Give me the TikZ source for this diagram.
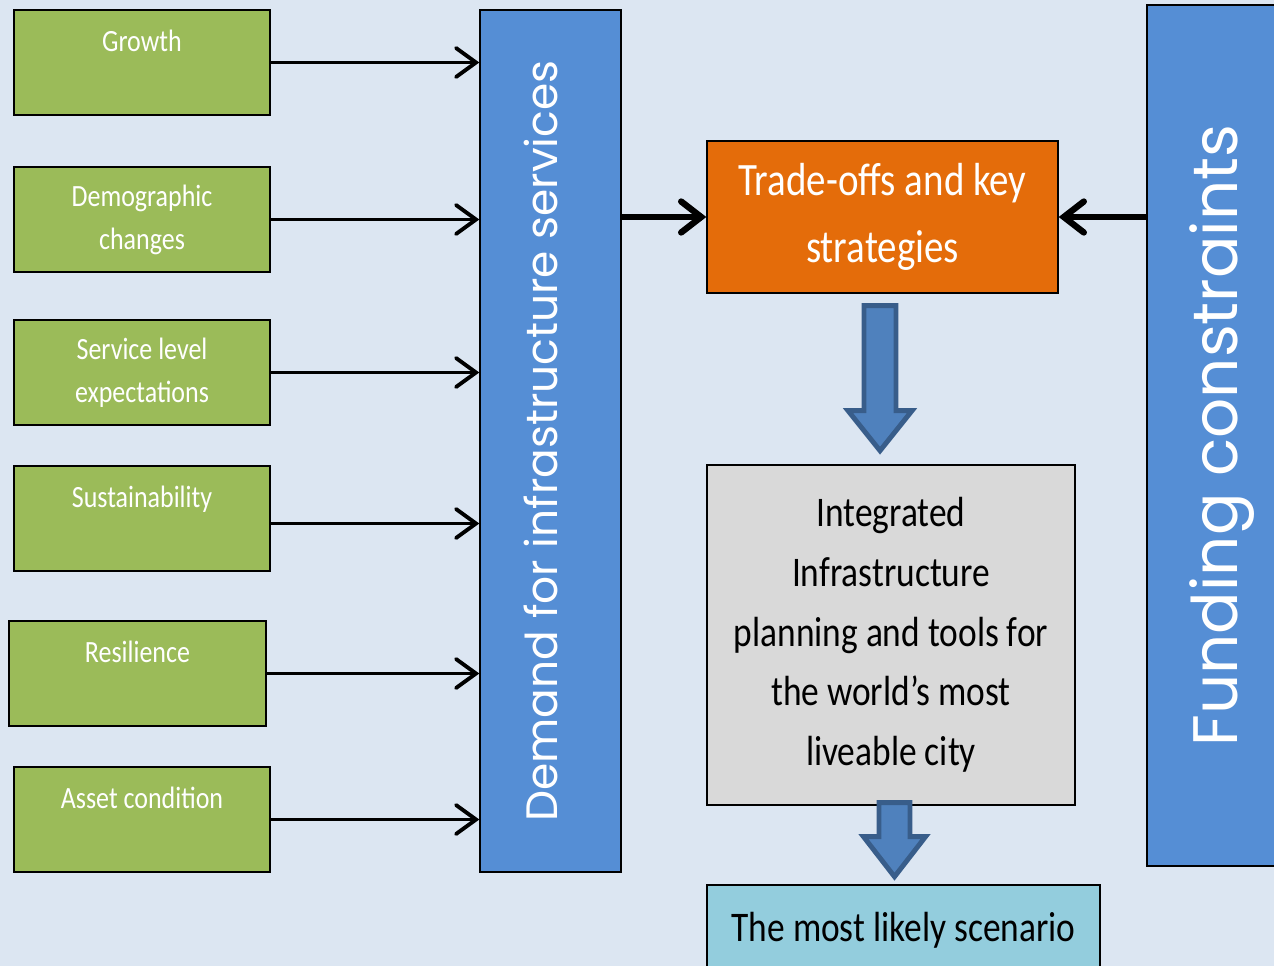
\documentclass[tikz,border=0pt]{standalone}
\usepackage{fontspec}
\setmainfont{Carlito}[FakeStretch=0.84]
\newfontfamily\geofont{Poppins}
\usetikzlibrary{arrows.meta, calc}
\definecolor{bgblue}{HTML}{DCE6F2}
\definecolor{facgreen}{HTML}{9BBB59}
\definecolor{colblue}{HTML}{558ED5}
\definecolor{tradeorange}{HTML}{E46C0A}
\definecolor{plangrey}{HTML}{D9D9D9}
\definecolor{scencyan}{HTML}{93CDDD}
\definecolor{blkfill}{HTML}{4F81BD}
\definecolor{blkline}{HTML}{385D8A}
\tikzset{%
    fac/.style={rectangle, draw, line width=0.8pt, fill=facgreen, text=white, align=center,
        minimum width=5.12cm, minimum height=2.1cm, inner sep=0pt, font=\fontsize{17.6}{24.5}\selectfont},
    col/.style={rectangle, draw, line width=0.8pt, fill=colblue, text=white, inner sep=0pt, rotate=90},
    res/.style={rectangle, draw, line width=0.8pt, align=center, inner sep=0pt},
    ina/.style={line width=2.2pt, -{Straight Barb[length=0.4cm, width=0.58cm, line cap=round]}},
    maina/.style={line width=3.6pt, -{Straight Barb[length=0.4cm, width=0.62cm, line cap=round]}},
    blk/.style={fill=blkfill, draw=blkline, line width=2.8pt, line join=miter},
}
\begin{document}
\begin{tikzpicture}[x=0.02cm, y=-0.02cm]
    \useasboundingbox (0,0) rectangle (1274,966);
    \fill [bgblue](0,0) rectangle (1274,966);
    \begin{scope}
    \clip (0,0) rectangle (1274,966);
    \node [fac] (grow) at (142,62.5) {Growth\\\mbox{}};
    \node [fac] (demo) at (142,219.5) {Demographic\\changes};
    \node [fac] (serv) at (142,372.5) {Service level\\expectations};
    \node [fac] (sust) at (142,518.5) {Sustainability\\\mbox{}};
    \node [fac, minimum width=5.14cm] (resi) at (137.5,673.5) {Resilience\\\mbox{}};
    \node [fac] (asse) at (142,819.5) {Asset condition\\\mbox{}};
    \node [col, minimum width=17.24cm, minimum height=2.82cm, text depth=0.4cm,
        font=\geofont\fontsize{25}{30}\selectfont]
        (dem) at (550.5,441) {Demand for infrastructure services};
    \node [col, minimum width=17.22cm, minimum height=3cm, font=\geofont\fontsize{35.8}{42}\selectfont]
        (fund) at (1222,435.5) {Funding constraints};
    \node [res, fill=tradeorange, text=white, minimum width=7.02cm, minimum height=3.04cm,
        font=\fontsize{26.4}{38}\selectfont] (trade) at (882.5,217) {Trade-offs and key\\strategies};
    \node [res, fill=plangrey, minimum width=7.36cm, minimum height=6.8cm,
        font=\fontsize{24}{34}\selectfont] (plan) at (891,635)
        {Integrated\\Infrastructure\\planning and tools for\\the world’s most\\liveable city};
    \node [res, fill=scencyan, minimum width=7.86cm, minimum height=1.8cm,
        font=\fontsize{24}{34}\selectfont] (scen) at (903.5,930) {The most likely scenario};
    \end{scope}
    \draw [ina](grow.east) -- (grow.east -| dem.north);
    \draw [ina](demo.east) -- (demo.east -| dem.north);
    \draw [ina](serv.east) -- (serv.east -| dem.north);
    \draw [ina]($(sust.east)+(0,5)$) -- ($(sust.east -| dem.north)+(0,5)$);
    \draw [ina](resi.east) -- (resi.east -| dem.north);
    \draw [ina](asse.east) -- (asse.east -| dem.north);
    \draw [maina](dem.south |- trade.west) -- (trade.west);
    \draw [maina](fund.north |- trade.east) -- (trade.east);
    \draw [blk]($(trade.south)+(-18.5,12)$) -- ++(0,105) -- ++(-16,0) -- ++(32,40)
        -- ++(32,-40) -- ++(-16,0) -- ++(0,-105) -- cycle;
    \draw [blk]($(plan.south)+(-12,-3)$) -- ++(0,34) -- ++(-15.5,0) -- ++(31,40)
        -- ++(31,-40) -- ++(-15.5,0) -- ++(0,-34) -- cycle;
\end{tikzpicture}
\end{document}
